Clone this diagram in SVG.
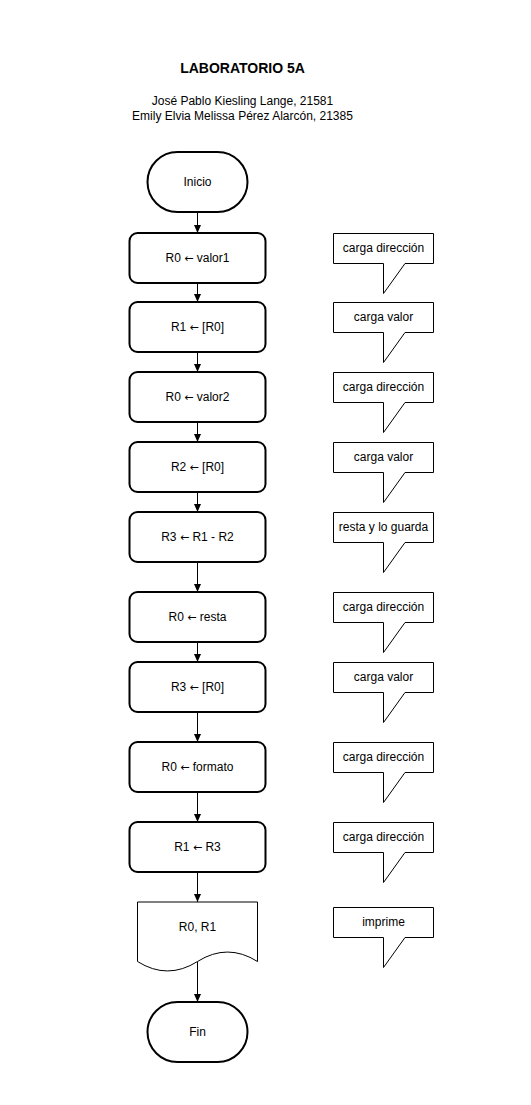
<svg xmlns="http://www.w3.org/2000/svg" width="531" height="1105" viewBox="0 0 531 1105">
<defs>
<marker id="arr" markerWidth="8" markerHeight="8" refX="8" refY="3.5" orient="auto" markerUnits="userSpaceOnUse">
<path d="M0,0 L8,3.5 L0,7 Z" fill="#000"/>
</marker>
</defs>
<style>
text{font-family:"Liberation Sans",Arial,sans-serif;font-size:12px;fill:#000;text-anchor:middle}
.title{font-size:14px;font-weight:bold}
.ar{font-family:"DejaVu Sans",sans-serif;font-size:11px}
.box{fill:#fff;stroke:#000;stroke-width:2}
.term{fill:#fff;stroke:#000;stroke-width:2}
.doc{fill:#fff;stroke:#000;stroke-width:1}
.call{fill:#fff;stroke:#000;stroke-width:1}
.conn{fill:none;stroke:#000;stroke-width:1;marker-end:url(#arr)}
</style>
<rect width="531" height="1105" fill="#fff"/>
<g id="header">
<text class="title" x="242.5" y="73">LABORATORIO 5A</text>
<text x="242.5" y="105">José Pablo Kiesling Lange, 21581</text>
<text x="242.5" y="120">Emily Elvia Melissa Pérez Alarcón, 21385</text>
</g>
<g id="connectors">
<line class="conn" x1="197.5" y1="212" x2="197.5" y2="233"/>
<line class="conn" x1="197.5" y1="283" x2="197.5" y2="302"/>
<line class="conn" x1="197.5" y1="352" x2="197.5" y2="372"/>
<line class="conn" x1="197.5" y1="422" x2="197.5" y2="442"/>
<line class="conn" x1="197.5" y1="492" x2="197.5" y2="512"/>
<line class="conn" x1="197.5" y1="562" x2="197.5" y2="592"/>
<line class="conn" x1="197.5" y1="642" x2="197.5" y2="662"/>
<line class="conn" x1="197.5" y1="712" x2="197.5" y2="742"/>
<line class="conn" x1="197.5" y1="792" x2="197.5" y2="822"/>
<line class="conn" x1="197.5" y1="872" x2="197.5" y2="902"/>
<line class="conn" x1="197.5" y1="961.5" x2="197.5" y2="1002"/>
</g>
<g id="inicio">
<rect class="term" x="147.5" y="152" width="100" height="60" rx="30" ry="30"/>
<text x="197.5" y="186">Inicio</text>
</g>
<g id="n1">
<rect class="box" x="129.5" y="233" width="136" height="50" rx="8" ry="8"/>
<text x="197.5" y="262">R0 <tspan class="ar">←</tspan> valor1</text>
</g>
<g id="n2">
<rect class="box" x="129.5" y="302" width="136" height="50" rx="8" ry="8"/>
<text x="197.5" y="331">R1 <tspan class="ar">←</tspan> [R0]</text>
</g>
<g id="n3">
<rect class="box" x="129.5" y="372" width="136" height="50" rx="8" ry="8"/>
<text x="197.5" y="401">R0 <tspan class="ar">←</tspan> valor2</text>
</g>
<g id="n4">
<rect class="box" x="129.5" y="442" width="136" height="50" rx="8" ry="8"/>
<text x="197.5" y="471">R2 <tspan class="ar">←</tspan> [R0]</text>
</g>
<g id="n5">
<rect class="box" x="129.5" y="512" width="136" height="50" rx="8" ry="8"/>
<text x="197.5" y="541">R3 <tspan class="ar">←</tspan> R1 - R2</text>
</g>
<g id="n6">
<rect class="box" x="129.5" y="592" width="136" height="50" rx="8" ry="8"/>
<text x="197.5" y="621">R0 <tspan class="ar">←</tspan> resta</text>
</g>
<g id="n7">
<rect class="box" x="129.5" y="662" width="136" height="50" rx="8" ry="8"/>
<text x="197.5" y="691">R3 <tspan class="ar">←</tspan> [R0]</text>
</g>
<g id="n8">
<rect class="box" x="129.5" y="742" width="136" height="50" rx="8" ry="8"/>
<text x="197.5" y="771">R0 <tspan class="ar">←</tspan> formato</text>
</g>
<g id="n9">
<rect class="box" x="129.5" y="822" width="136" height="50" rx="8" ry="8"/>
<text x="197.5" y="851">R1 <tspan class="ar">←</tspan> R3</text>
</g>
<g id="doc">
<path class="doc" d="M137.5,902 L257.5,902 L257.5,961.5 Q227.5,942.6 197.5,961.5 Q167.5,980.4 137.5,961.5 Z"/>
<text x="197.5" y="931">R0, R1</text>
</g>
<g id="fin">
<rect class="term" x="147.5" y="1002" width="100" height="60" rx="30" ry="30"/>
<text x="197.5" y="1036">Fin</text>
</g>
<g id="c1">
<path class="call" d="M333.5,233.5 H433.5 V263.5 H405 L383.5,293.5 V263.5 H333.5 Z"/>
<text x="383.5" y="252">carga dirección</text>
</g>
<g id="c2">
<path class="call" d="M333.5,302.5 H433.5 V332.5 H405 L383.5,362.5 V332.5 H333.5 Z"/>
<text x="383.5" y="321">carga valor</text>
</g>
<g id="c3">
<path class="call" d="M333.5,372.5 H433.5 V402.5 H405 L383.5,432.5 V402.5 H333.5 Z"/>
<text x="383.5" y="391">carga dirección</text>
</g>
<g id="c4">
<path class="call" d="M333.5,442.5 H433.5 V472.5 H405 L383.5,502.5 V472.5 H333.5 Z"/>
<text x="383.5" y="461">carga valor</text>
</g>
<g id="c5">
<path class="call" d="M333.5,512.5 H433.5 V542.5 H405 L383.5,572.5 V542.5 H333.5 Z"/>
<text x="383.5" y="531">resta y lo guarda</text>
</g>
<g id="c6">
<path class="call" d="M333.5,592.5 H433.5 V622.5 H405 L383.5,652.5 V622.5 H333.5 Z"/>
<text x="383.5" y="611">carga dirección</text>
</g>
<g id="c7">
<path class="call" d="M333.5,662.5 H433.5 V692.5 H405 L383.5,722.5 V692.5 H333.5 Z"/>
<text x="383.5" y="681">carga valor</text>
</g>
<g id="c8">
<path class="call" d="M333.5,742.5 H433.5 V772.5 H405 L383.5,802.5 V772.5 H333.5 Z"/>
<text x="383.5" y="761">carga dirección</text>
</g>
<g id="c9">
<path class="call" d="M333.5,822.5 H433.5 V852.5 H405 L383.5,882.5 V852.5 H333.5 Z"/>
<text x="383.5" y="841">carga dirección</text>
</g>
<g id="c10">
<path class="call" d="M333.5,907.5 H433.5 V937.5 H405 L383.5,967.5 V937.5 H333.5 Z"/>
<text x="383.5" y="926">imprime</text>
</g>
</svg>
